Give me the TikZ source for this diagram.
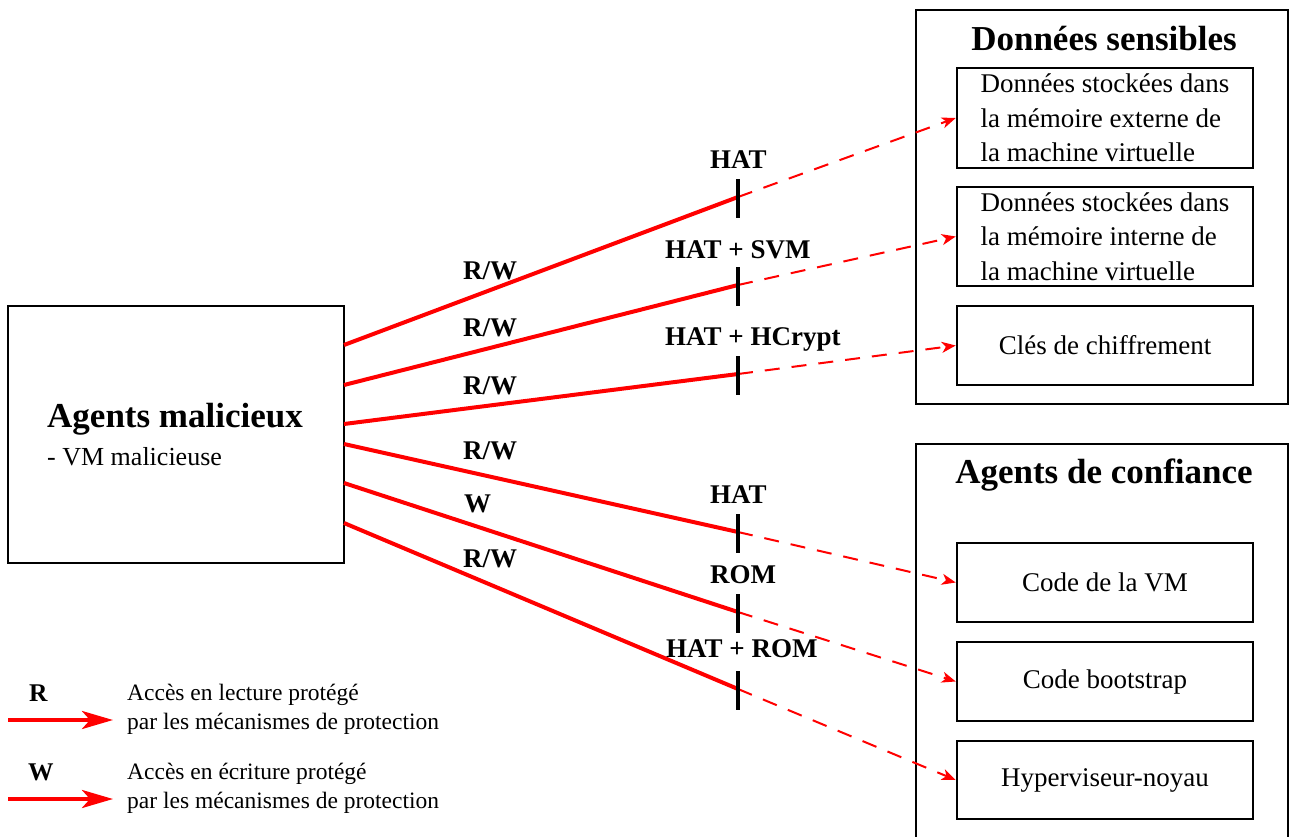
\documentclass[tikz,border=0pt]{standalone}
\usepackage{fontspec}
\setmainfont{Liberation Serif}
\usetikzlibrary{arrows.meta}
\begin{document}
\begin{tikzpicture}[x=1pt,y=-1pt,
  rect/.style={draw=black,line width=2.5pt,inner sep=0pt},
  inbox/.style={rect,minimum width=296pt,font=\fontsize{27}{34.5}\selectfont,align=left},
  acc/.style={draw=red,line width=4pt},
  prot/.style={draw=red,line width=2pt,dash pattern=on 15pt off 12pt,-{Stealth[length=14pt,width=11pt,inset=4pt]}},
  legarrow/.style={draw=red,line width=4pt,-{Stealth[length=31pt,width=18pt,inset=8pt]}},
  tickmark/.style={draw=black,line width=3.5pt},
  lbl/.style={font=\fontsize{27}{32}\selectfont\bfseries,anchor=base west,inner sep=0pt},
  title/.style={font=\fontsize{35}{40}\selectfont\bfseries,anchor=base,inner sep=0pt},
  legtxt/.style={font=\fontsize{23.5}{29}\selectfont,align=left,anchor=west,inner sep=0pt},
  legkey/.style={font=\fontsize{25.5}{30}\selectfont\bfseries,anchor=base west,inner sep=0pt}
]
\useasboundingbox (0,0) rectangle (1290,836);
\clip (0,0) rectangle (1290,836);

% Malicious agents box
\node[rect,minimum width=336pt,minimum height=257pt] (mal) at (176,434.5) {};
\node[anchor=base west,inner sep=0pt,font=\fontsize{35}{40}\selectfont\bfseries] (malt) at (47,427) {Agents malicieux};
\node[anchor=base west,inner sep=0pt,font=\fontsize{26}{30}\selectfont] (mals) at (47,465) {- VM malicieuse};

% Sensitive data frame
\node[rect,minimum width=372pt,minimum height=394pt] (ds) at (1102,207) {};
\node[title] (dst) at (1104,50) {Données sensibles};
\node[inbox,minimum height=100pt] (d1) at (1105,118) {Données stockées dans\\la mémoire externe de\\la machine virtuelle};
\node[inbox,minimum height=99pt] (d2) at (1105,236.5) {Données stockées dans\\la mémoire interne de\\la machine virtuelle};
\node[inbox,minimum height=79pt] (d3) at (1105,345.5) {Clés de chiffrement};

% Trusted agents frame
\node[rect,minimum width=372pt,minimum height=456pt] (ac) at (1102,672) {};
\node[title] (act) at (1104,483) {Agents de confiance};
\node[inbox,minimum height=79pt] (c1) at (1105,582.5) {Code de la VM};
\node[inbox,minimum height=79pt] (c2) at (1105,681.5) {Code bootstrap};
\node[inbox,minimum height=78pt] (c3) at (1105,780) {Hyperviseur-noyau};

% start and barrier points
\coordinate (s1) at (344,345);
\coordinate (s2) at (344,385);
\coordinate (s3) at (344,424);
\coordinate (s4) at (344,444);
\coordinate (s5) at (344,483);
\coordinate (s6) at (344,523);
\coordinate (t1) at (738,197);
\coordinate (t2) at (738,285);
\coordinate (t3) at (738,374);
\coordinate (t4) at (738,532);
\coordinate (t5) at (738,612);
\coordinate (t6) at (738,689);

% access lines
\draw[acc] (s1) -- (t1);
\draw[acc] (s2) -- (t2);
\draw[acc] (s3) -- (t3);
\draw[acc] (s4) -- (t4);
\draw[acc] (s5) -- (t5);
\draw[acc] (s6) -- (t6);

% protected continuations
\draw[prot] (t1) -- (d1.west);
\draw[prot] (t2) -- (d2.west);
\draw[prot] (t3) -- (d3.west);
\draw[prot] (t4) -- (c1.west);
\draw[prot] (t5) -- (c2.west);
\draw[prot] (t6) -- (c3.west);

% barriers
\foreach \t in {t1,t2,t3,t4,t5,t6}
  \draw[tickmark] (\t) +(0,-18) -- +(0,21);

% barrier labels
\node[lbl] (b1) at (710,168) {HAT};
\node[lbl] (b2) at (665,258) {HAT + SVM};
\node[lbl] (b3) at (665,345) {HAT + HCrypt};
\node[lbl] (b4) at (710,503) {HAT};
\node[lbl] (b5) at (710,583) {ROM};
\node[lbl] (b6) at (666,657) {HAT + ROM};

% access labels
\node[lbl] (r1) at (463,279) {R/W};
\node[lbl] (r2) at (463,336) {R/W};
\node[lbl] (r3) at (463,394) {R/W};
\node[lbl] (r4) at (463,459) {R/W};
\node[lbl] (r5) at (464,512) {W};
\node[lbl] (r6) at (463,567) {R/W};

% legend
\node[legkey] (kr) at (29,701) {R};
\node[legkey] (kw) at (28,780) {W};
\coordinate (la1) at (8,720);
\coordinate (lb1) at (113,720);
\coordinate (la2) at (8,799);
\coordinate (lb2) at (113,799);
\draw[legarrow] (la1) -- (lb1);
\draw[legarrow] (la2) -- (lb2);
\node[legtxt] (lt1) at (127,709) {Accès en lecture protégé\\par les mécanismes de protection};
\node[legtxt] (lt2) at (127,788) {Accès en écriture protégé\\par les mécanismes de protection};
\end{tikzpicture}
\end{document}
